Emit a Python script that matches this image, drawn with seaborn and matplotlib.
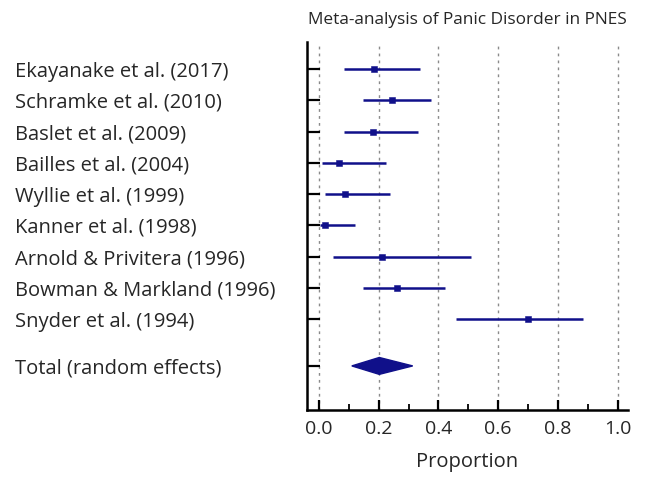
import numpy as np
import pandas as pd
import matplotlib
matplotlib.use("Agg")
import matplotlib.pyplot as plt
import seaborn as sns

# study estimates
studies = ["Ekayanake et al. (2017)", "Schramke et al. (2010)", "Baslet et al. (2009)",
           "Bailles et al. (2004)", "Wyllie et al. (1999)", "Kanner et al. (1998)",
           "Arnold & Privitera (1996)", "Bowman & Markland (1996)", "Snyder et al. (1994)"]
est = [0.186, 0.246, 0.182, 0.066, 0.088, 0.021, 0.212, 0.263, 0.700]
lower = [0.084, 0.147, 0.084, 0.009, 0.020, 0.003, 0.046, 0.147, 0.460]
upper = [0.338, 0.376, 0.331, 0.223, 0.237, 0.122, 0.510, 0.421, 0.884]

total_label = "Total (random effects)"
total_est = 0.202
total_lower = 0.110
total_upper = 0.314

navy = "#10108a"

sns.set_style("white")
plt.rcParams["font.family"] = ["Open Sans", "DejaVu Sans"]

df = pd.DataFrame({"study": studies, "est": est, "lower": lower, "upper": upper})
df["pos"] = np.arange(len(studies))
total_pos = len(studies) + 0.5

fig = plt.figure(figsize=(6.68, 4.78), dpi=100)
ax = fig.add_axes([0.4596, 0.1423, 0.4805, 0.7698])

# vertical dotted grid
for gx in [0.0, 0.2, 0.4, 0.6, 0.8, 1.0]:
    ax.axvline(gx, color="#8a8a8a", linestyle=(0, (2, 3)), linewidth=1.0, zorder=0)

ax.hlines(df["pos"], df["lower"], df["upper"], color=navy, linewidth=1.8, zorder=2)
sns.scatterplot(data=df, x="est", y="pos", marker="s", s=22, color=navy,
                edgecolor=navy, ax=ax, zorder=3, legend=False)

# pooled estimate diamond
h = 0.27
ax.fill([total_lower, total_est, total_upper, total_est],
        [total_pos, total_pos - h, total_pos, total_pos + h],
        color=navy, zorder=3)

ax.set_xlim(-0.04, 1.035)
ax.set_ylim(total_pos + 1.41, -0.865)

ax.set_yticks(list(df["pos"]) + [total_pos])
ax.set_yticklabels(studies + [total_label], fontsize=14.5)
for lab in ax.get_yticklabels():
    lab.set_horizontalalignment("left")
ax.tick_params(axis="y", left=True, direction="in", length=9, width=1.6, pad=210, color="black")

ax.set_xticks([0.0, 0.2, 0.4, 0.6, 0.8, 1.0])
ax.set_xticklabels(["0.0", "0.2", "0.4", "0.6", "0.8", "1.0"], fontsize=14)
ax.set_xticks([0.1, 0.3, 0.5, 0.7, 0.9], minor=True)
ax.tick_params(axis="x", which="major", bottom=True, direction="in", length=7, width=1.6,
               pad=7, color="black")
ax.tick_params(axis="x", which="minor", bottom=True, direction="in", length=4, width=1.3,
               color="black")

ax.set_xlabel("Proportion", fontsize=14.5, labelpad=10)
ax.set_ylabel("")
ax.set_title("Meta-analysis of Panic Disorder in PNES", fontsize=12.4, pad=13)

for side in ["top", "right"]:
    ax.spines[side].set_visible(False)
for side in ["left", "bottom"]:
    ax.spines[side].set_color("black")
    ax.spines[side].set_linewidth(1.8)

fig.savefig("out.png", dpi=100)
